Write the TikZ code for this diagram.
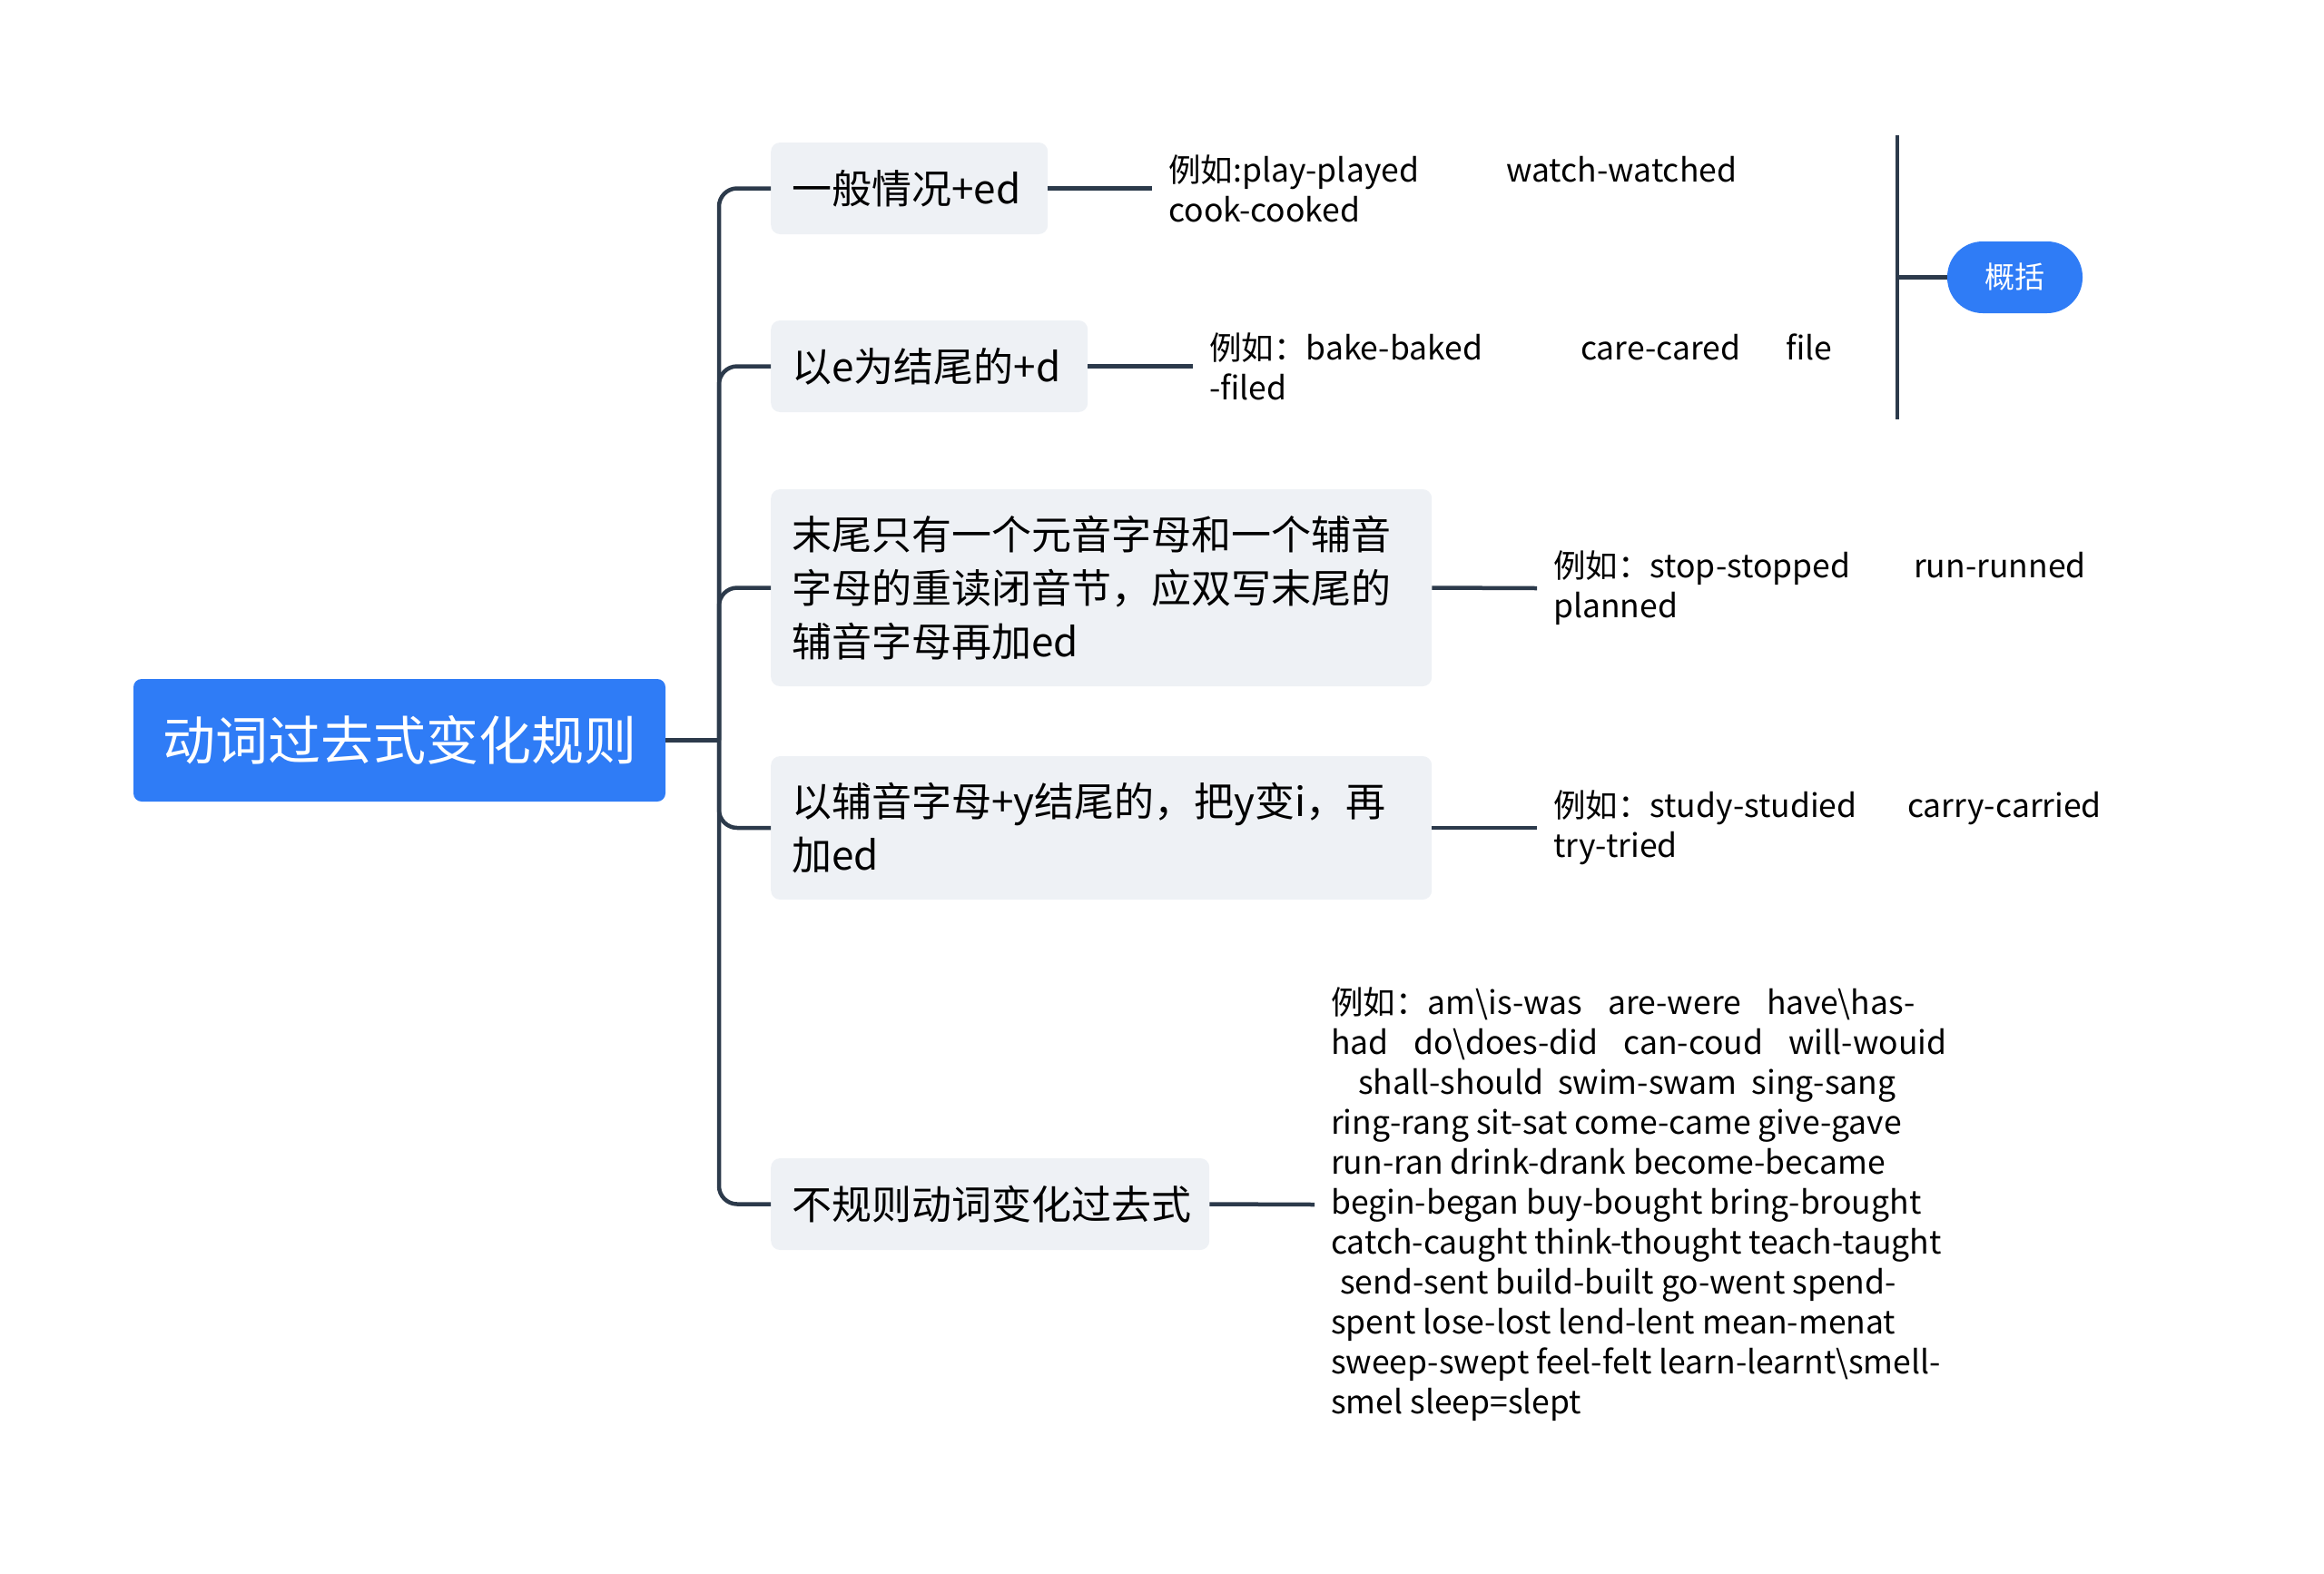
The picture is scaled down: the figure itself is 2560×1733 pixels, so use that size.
\documentclass[tikz,border=0pt]{standalone}
\usepackage{fontspec}
\setmainfont{Noto Sans CJK SC}
\definecolor{rootblue}{HTML}{2F7CF6}
\definecolor{boxgray}{HTML}{EEF1F5}
\definecolor{linecol}{HTML}{2C3A4B}
\newcommand\mygap[1]{\hspace*{#1pt}}
\begin{document}
\begin{tikzpicture}[x=1pt,y=-1pt,
  conn/.style={draw=linecol, line width=4.5pt},
  rootnode/.style={fill=rootblue, rounded corners=9pt, text=white,
    font=\fontsize{58}{70}\selectfont, minimum width=586pt, minimum height=135pt, inner sep=0pt},
  branch/.style={fill=boxgray, rounded corners=10pt, font=\fontsize{44}{59}\selectfont,
    align=left, inner xsep=23pt, inner ysep=0pt, minimum height=101pt, anchor=west},
  leaf/.style={font=\fontsize{35.5}{44}\selectfont, align=left, anchor=west,
    inner xsep=18pt, inner ysep=0pt},
  pill/.style={fill=rootblue, rounded corners=39pt, text=white,
    font=\fontsize{33}{40}\selectfont, minimum width=149pt, minimum height=79pt, inner sep=0pt}
]
\useasboundingbox (0,0) rectangle (2560,1733);

% root
\node[rootnode] (root) at (440,815.5) {动词过去式变化规则};
\coordinate (j) at (792,815.5);

% branches
\node[branch, text width=259pt] (b1) at (849,207.5) {一般情况+ed};
\node[branch, text width=303pt] (b2) at (849,403.5) {以e为结尾的+d};
\node[branch, text width=682pt, minimum height=217pt] (b3) at (849,647.5)
  {末尾只有一个元音字母和一个辅音\\字母的重读闭音节，应双写末尾的\\辅音字母再加ed};
\node[branch, text width=682pt, minimum height=158pt] (b4) at (849,912)
  {以辅音字母+y结尾的，把y变i，再\\加ed};
\node[branch, text width=437pt] (b5) at (849,1326.5) {不规则动词变化过去式};

% leaves
\node[leaf] (l1) at (1269,207.5)
  {\makebox[372pt][l]{例如:play-played}watch-watched\\cook-cooked};
\node[leaf] (l2) at (1314,403.5)
  {\makebox[409pt][l]{例如：bake-baked}\makebox[226pt][l]{care-cared}file\\-filed};
\node[leaf] (l3) at (1693,648)
  {\makebox[397pt][l]{例如：stop-stopped}run-runned\\planned};
\node[leaf] (l4) at (1693,912)
  {\makebox[390pt][l]{例如：study-studied}carry-carried\\try-tried};
\node[leaf] (l5) at (1448,1327)
  {例如：am\textbackslash is-was\mygap{28}are-were\mygap{28}have\textbackslash has-\\
   had\mygap{28}do\textbackslash does-did\mygap{28}can-coud\mygap{28}will-wouid\\
   \mygap{30}shall-should\mygap{16}swim-swam\mygap{16}sing-sang\\
   ring-rang sit-sat come-came give-gave\\
   run-ran drink-drank become-became\\
   begin-began buy-bought bring-brought\\
   catch-caught think-thought teach-taught\\
   \mygap{10}send-sent build-built go-went spend-\\
   spent lose-lost lend-lent mean-menat\\
   sweep-swept feel-felt learn-learnt\textbackslash smell-\\
   smel sleep=slept};

% connectors root -> branches
\draw[conn] (root.east) -- (j);
\foreach \b in {b1,b2,b3,b4,b5}
  \draw[conn, rounded corners=20pt] (j) |- (\b.west);

% connectors branches -> leaves
\draw[conn] (b1.east) -- (l1.west);
\draw[conn] (b2.east) -- (l2.west);
\draw[conn] (b3.east) -- (l3.west);
\draw[conn] (b4.east) -- (l4.west);
\draw[conn] (b5.east) -- (l5.west);

% summary
\coordinate (stop) at (2090,149);
\coordinate (sbot) at (2090,462);
\coordinate (smid) at (2090,305.5);
\node[pill] (sum) at (2219.5,305.5) {概括};
\draw[conn] (stop) -- (sbot);
\draw[conn] (smid) -- (sum.west);
\end{tikzpicture}
\end{document}
